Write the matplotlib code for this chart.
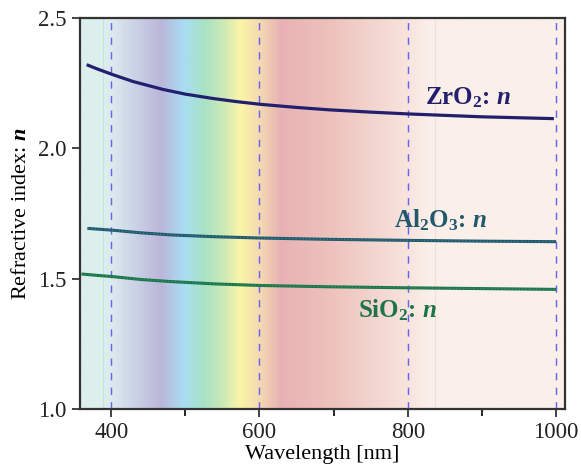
import numpy as np
import matplotlib
matplotlib.use('Agg')
import matplotlib.pyplot as plt
from matplotlib.colors import LinearSegmentedColormap

plt.rcParams['font.family'] = 'Liberation Serif'
plt.rcParams['mathtext.fontset'] = 'custom'
plt.rcParams['mathtext.rm'] = 'Liberation Serif:bold'
plt.rcParams['mathtext.it'] = 'Liberation Serif:bold:italic'

# wavelength samples [nm] and refractive index
wl_zro2 = [367, 380, 402, 430, 470, 500, 538, 570, 601, 650, 693, 750, 801, 900, 997]
n_zro2 = [2.321, 2.306, 2.283, 2.256, 2.226, 2.208, 2.191, 2.179, 2.169, 2.157, 2.148, 2.139, 2.132, 2.121, 2.114]

wl_al2o3 = [368, 402, 440, 480, 540, 601, 693, 800, 900, 1000]
n_al2o3 = [1.693, 1.686, 1.676, 1.668, 1.661, 1.656, 1.651, 1.647, 1.644, 1.642]

wl_sio2 = [360, 380, 402, 440, 480, 540, 601, 693, 800, 900, 1000]
n_sio2 = [1.518, 1.513, 1.508, 1.497, 1.489, 1.480, 1.474, 1.469, 1.465, 1.462, 1.459]

# background spectrum colour stops
stop_wl = [358, 389, 400, 430, 466, 497, 524, 550, 574, 600, 628, 700, 800, 830, 1012]
stop_col = ['#dcefed', '#dcefed', '#dde9ef', '#cbd3e6', '#bbb6da', '#a8def2', '#a8e2c6',
            '#cde9b6', '#fbf5a6', '#f4d9b2', '#e8b2b4', '#eec3bd', '#f8e4de', '#fbefea', '#fbf0ea']

xmin, xmax = 358, 1012
fig = plt.figure(figsize=(5.81, 4.68), dpi=100)
ax = fig.add_axes([0.1377, 0.126, 0.8348, 0.8355])

pos = [(w - xmin) / (xmax - xmin) for w in stop_wl]
cmap = LinearSegmentedColormap.from_list('spec', list(zip(pos, stop_col)))
ax.imshow(np.linspace(0, 1, 600)[None, :], cmap=cmap, aspect='auto',
          extent=[xmin, xmax, 1.0, 2.5], zorder=0)
ax.axvline(389, color='#c6e3dc', lw=0.8, zorder=1)
ax.axvline(837, color='#f3dfd8', lw=0.8, zorder=1)

for xv in [400, 600, 800, 1000]:
    ax.axvline(xv, color='#6866e6', lw=1.05, ls=(0, (5, 5)), zorder=2)

ax.plot(wl_zro2, n_zro2, color='#22206e', lw=2.3, zorder=3, solid_capstyle='butt')
ax.plot(wl_al2o3, n_al2o3, color='#20586c', lw=2.2, zorder=3, solid_capstyle='butt')
ax.plot(wl_al2o3, n_al2o3, color='#3f7c8e', lw=1.0, ls=(0, (1, 1.5)), zorder=4)
ax.plot(wl_sio2, n_sio2, color='#1b744a', lw=2.2, zorder=3, solid_capstyle='butt')
ax.plot(wl_sio2, n_sio2, color='#3a9068', lw=1.0, ls=(0, (1, 1.5)), zorder=4)

ax.text(881, 2.193, 'ZrO$_2$: $n$', color='#22206e', fontsize=18, fontweight='bold',
        ha='center', va='center')
ax.text(844, 1.725, 'Al$_2$O$_3$: $n$', color='#20586c', fontsize=18, fontweight='bold',
        ha='center', va='center')
ax.text(786, 1.38, 'SiO$_2$: $n$', color='#1b744a', fontsize=18, fontweight='bold',
        ha='center', va='center')

ax.set_xlim(xmin, xmax)
ax.set_ylim(1.0, 2.5)
ax.set_xticks([400, 600, 800, 1000])
ax.set_xticks([500, 700, 900], minor=True)
ax.set_yticks([1.0, 1.5, 2.0, 2.5])
ax.tick_params(axis='both', which='major', direction='out', length=6, width=1.2,
               labelsize=16.5, colors='#222222')
ax.tick_params(axis='x', which='minor', direction='out', length=5, width=1.2)
for s in ax.spines.values():
    s.set_linewidth(1.6)
    s.set_color('#333333')

ax.set_xlabel('Wavelength [nm]', fontsize=16, labelpad=1)
ax.set_ylabel('Refractive index: $n$', fontsize=16, labelpad=5)

fig.savefig('out.png', dpi=100)
